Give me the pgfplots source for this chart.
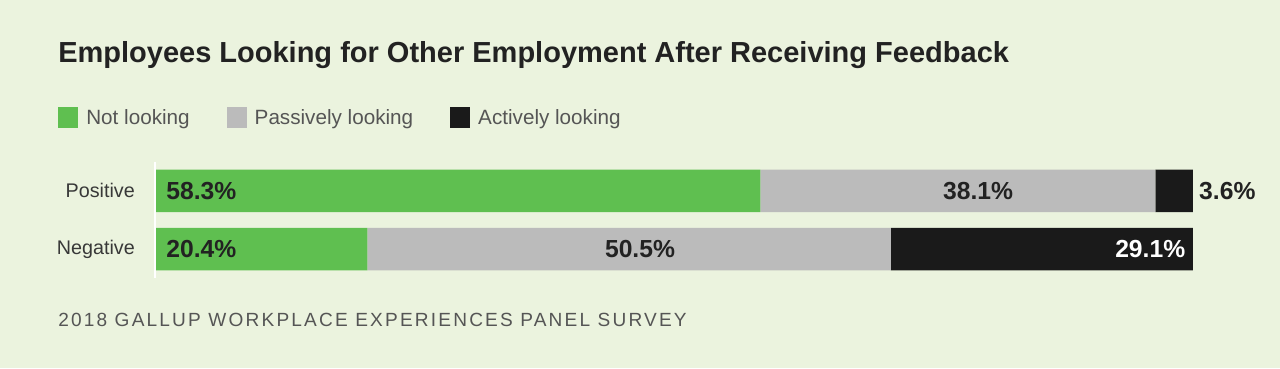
\documentclass[border=0pt]{standalone}
\usepackage{fontspec}
\setmainfont{Liberation Sans}
\usepackage{pgfplots}
\pgfplotsset{compat=1.18}
\definecolor{bg}{HTML}{EBF3DE}
\definecolor{grn}{HTML}{5FBF50}
\definecolor{gry}{HTML}{BBBBBB}
\definecolor{blk}{HTML}{1A1A1A}
\definecolor{txt}{HTML}{222222}
\definecolor{sub}{HTML}{555555}
\newcommand\valfont{\fontsize{18.5}{22}\selectfont\bfseries}
\begin{document}
\begin{tikzpicture}
\fill[bg] (0,0) rectangle (960pt,-276pt);
\useasboundingbox (0,0) rectangle (960pt,-276pt);
\node[anchor=base west, inner sep=0pt, text=txt, font=\fontsize{21.75}{26}\selectfont\bfseries] at (43.5pt,-47pt) {Employees Looking for Other Employment After Receiving Feedback};
\node[anchor=base west, inner sep=0pt, text=sub, font=\fontsize{14.3}{17}\selectfont\addfontfeatures{LetterSpace=11.5}] at (43.5pt,-245pt) {2018 GALLUP WORKPLACE EXPERIENCES PANEL SURVEY};
\begin{axis}[
  at={(116.8pt,-213pt)}, anchor=south west,
  scale only axis, width=777.75pt, height=96.1pt,
  xbar stacked, bar width=31.9pt,
  xmin=0, xmax=100, ymin=-0.6, ymax=1.6,
  clip=false,
  axis line style={draw=none}, tick style={draw=none},
  xtick=\empty, ytick={0,1}, yticklabels={Negative,Positive},
  yticklabel style={anchor=east, inner sep=0pt, xshift=-15.5pt, text=txt!90, font=\fontsize{14.8}{17}\selectfont},
  legend columns=-1,
  legend cell align=left,
  legend image code/.code={\fill[#1] (0pt,-7.8pt) rectangle (15pt,7.8pt);},
  legend style={at={(axis description cs:-0.0942,1.299)}, anchor=west, draw=none, fill=none, inner sep=0pt,
    nodes={inner sep=0pt}, text=sub, font=\fontsize{15.5}{18}\selectfont,
    /tikz/every odd column/.append style={column sep=6pt},
    /tikz/every even column/.append style={column sep=27.75pt}},
]
\draw[white, line width=1.3pt] (axis cs:-0.1,-0.5) -- (axis cs:-0.1,1.495);
\addplot[fill=grn, draw=none] coordinates {(20.4,0) (58.3,1)};
\addplot[fill=gry, draw=none] coordinates {(50.5,0) (38.1,1)};
\addplot[fill=blk, draw=none] coordinates {(29.1,0) (3.6,1)};
\legend{Not looking, Passively looking, Actively looking}
\coordinate (a) at (axis cs:1,1);
\coordinate (b) at (axis cs:1,0);
\coordinate (c) at (axis cs:79.3,1);
\coordinate (d) at (axis cs:46.7,0);
\coordinate (e) at (axis cs:100.6,1);
\coordinate (f) at (axis cs:99.3,0);
\end{axis}
\node[anchor=west, inner sep=0pt, text=txt, font=\valfont] at (a) {58.3\%};
\node[anchor=west, inner sep=0pt, text=txt, font=\valfont] at (b) {20.4\%};
\node[inner sep=0pt, text=txt, font=\valfont] at (c) {38.1\%};
\node[inner sep=0pt, text=txt, font=\valfont] at (d) {50.5\%};
\node[anchor=west, inner sep=0pt, text=txt, font=\valfont] at (e) {3.6\%};
\node[anchor=east, inner sep=0pt, text=white, font=\valfont] at (f) {29.1\%};
\end{tikzpicture}
\end{document}
